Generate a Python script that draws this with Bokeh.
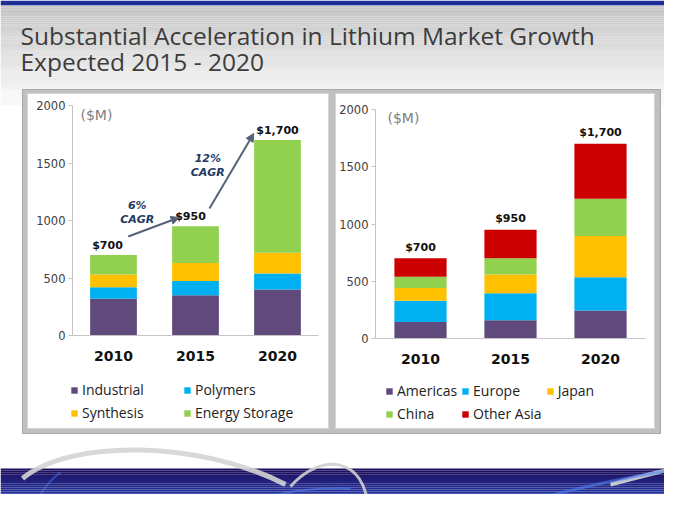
import numpy as np
from bokeh.plotting import figure
from bokeh.models import (Range1d, LinearAxis, FixedTicker, Legend, LegendItem,
                          Arrow, NormalHead, ColumnDataSource)
from bokeh.core.properties import value
from bokeh.embed import file_html
from bokeh.resources import INLINE

# ---------------- data ----------------
years = ["2010", "2015", "2020"]

app_names = ["Industrial", "Polymers", "Synthesis", "Energy Storage"]
industrial = [320, 350, 400]
polymers = [100, 125, 140]
synthesis = [110, 155, 180]
energy_storage = [170, 320, 980]

region_names = ["Americas", "Europe", "Japan", "China", "Other Asia"]
americas = [145, 160, 245]
europe = [185, 235, 290]
japan = [110, 165, 360]
china = [100, 140, 325]
other_asia = [160, 250, 480]

cagr_labels = ["6%\nCAGR", "12%\nCAGR"]
y_ticks = [0, 500, 1000, 1500, 2000]
unit_label = "($M)"
title_lines = ["Substantial Acceleration in Lithium Market Growth",
               "Expected 2015 - 2020"]

# ---------------- styles ----------------
app_colors = ["#604a7b", "#00b0f0", "#ffc000", "#92d050"]
region_colors = ["#604a7b", "#00b0f0", "#ffc000", "#92d050", "#cc0000"]

W, H = 664, 494
OX, OY = 0, 0

p = figure(width=W, height=H, x_range=Range1d(OX, OX + W), y_range=Range1d(OY + H, OY),
           output_backend="svg", toolbar_location=None,
           x_axis_type=None, y_axis_type=None, min_border=0,
           outline_line_color=None, background_fill_color="white",
           border_fill_color="white")


def mix(c1, c2, t):
    return "#%02x%02x%02x" % tuple(int(round(a + (b - a) * t)) for a, b in zip(c1, c2))


# top band + header gradient
p.quad(left=0, right=680, top=0, bottom=5, fill_color="#1f2d96", line_color=None)
n = 40
edges = np.linspace(5, 90, n + 1)
p.quad(left=0, right=680, top=edges[:-1], bottom=edges[1:],
       fill_color=[mix((198, 198, 198), (242, 242, 242), i / (n - 1)) for i in range(n)],
       line_color=None)
p.quad(left=0, right=680, top=90, bottom=105,
       fill_color=[mix((242, 242, 242), (255, 255, 255), 0.5)], line_color=None)

# bottom band
nb = 20
bedges = np.linspace(468, 510, nb + 1)
p.quad(left=0, right=680, top=bedges[:-1], bottom=bedges[1:],
       fill_color=[mix((30, 14, 92), (40, 76, 200), i / (nb - 1)) for i in range(nb)],
       line_color=None)
# swooshes
p.bezier(x0=[22], y0=[478], x1=[285], y1=[484], cx0=[70], cy0=[438], cx1=[200], cy1=[440],
         line_color="#d4d4d4", line_width=5, line_alpha=0.9)
p.bezier(x0=[290], y0=[486], x1=[368], y1=[510], cx0=[320], cy0=[452], cx1=[365], cy1=[455],
         line_color="#cfcfcf", line_width=3, line_alpha=0.9)
p.bezier(x0=[610], y0=[484], x1=[680], y1=[466], cx0=[640], cy0=[476], cx1=[665], cy1=[470],
         line_color="#d8d8d8", line_width=4, line_alpha=0.9)
p.bezier(x0=[230], y0=[512], x1=[350], y1=[488], cx0=[260], cy0=[495], cx1=[300], cy1=[486],
         line_color="#4f7ef0", line_width=2, line_alpha=0.6)
p.bezier(x0=[490], y0=[512], x1=[680], y1=[468], cx0=[560], cy0=[490], cx1=[630], cy1=[476],
         line_color="#4f7ef0", line_width=3, line_alpha=0.6)
p.bezier(x0=[30], y0=[512], x1=[60], y1=[472], cx0=[38], cy0=[495], cx1=[48], cy1=[480],
         line_color="#4f7ef0", line_width=2, line_alpha=0.5)

# frame and panels
p.quad(left=22, right=660, top=89, bottom=433, fill_color="#c0c0c0", line_color="#a8a8a8")
p.quad(left=[27, 335], right=[328, 654], top=[93, 93], bottom=[428, 428],
       fill_color="white", line_color="#d6d6d6")

# title
p.text(x=[20, 20], y=[35, 61], text=title_lines, text_font=value("Open Sans"),
       text_font_size="24.5px", text_color="#3c3c3c", text_baseline="alphabetic")


# ---------------- chart mapping ----------------
def sub_ranges(px_left, px_right, n_cat, px_zero, px_top, vmax):
    kx = (px_right - px_left) / n_cat
    xs = (OX - px_left) / kx
    ky = (px_zero - px_top) / vmax
    ys = -(OY + H - px_zero) / ky
    return Range1d(xs, xs + W / kx), Range1d(ys, ys + H / ky)


vmax = y_ticks[-1]
L = dict(left=72, right=318, zero=335, top=105)
R = dict(left=375, right=645, zero=338, top=109)
lx, ly = sub_ranges(L["left"], L["right"], len(years), L["zero"], L["top"], vmax)
rx, ry = sub_ranges(R["left"], R["right"], len(years), R["zero"], R["top"], vmax)
p.extra_x_ranges = {"lx": lx, "rx": rx}
p.extra_y_ranges = {"ly": ly, "ry": ry}

xc = [i + 0.5 for i in range(len(years))]

src_l = ColumnDataSource(dict(x=xc, **dict(zip(app_names,
                          [industrial, polymers, synthesis, energy_storage]))))
src_r = ColumnDataSource(dict(x=xc, **dict(zip(region_names,
                          [americas, europe, japan, china, other_asia]))))

rl = p.vbar_stack(app_names, x="x", width=0.57, color=app_colors, source=src_l,
                  x_range_name="lx", y_range_name="ly", line_color=None)
rr = p.vbar_stack(region_names, x="x", width=0.58, color=region_colors, source=src_r,
                  x_range_name="rx", y_range_name="ry", line_color=None)


def add_axes(xname, yname, frame):
    ya = LinearAxis(y_range_name=yname, fixed_location=frame["left"], bounds=(0, vmax),
                    ticker=FixedTicker(ticks=y_ticks), axis_line_color="#c4c4c4",
                    major_tick_line_color="#c4c4c4", major_tick_out=4, major_tick_in=0,
                    minor_tick_out=0, minor_tick_in=0, major_label_standoff=3,
                    major_label_text_font="DejaVu Sans", major_label_text_font_size="11.5px",
                    major_label_text_color="#404040")
    p.add_layout(ya, "left")
    xa = LinearAxis(x_range_name=xname, fixed_location=frame["zero"], bounds=(0, len(years)),
                    ticker=FixedTicker(ticks=xc),
                    major_label_overrides={t: y for t, y in zip(xc, years)},
                    axis_line_color="#c4c4c4", major_tick_out=0, major_tick_in=0,
                    minor_tick_out=0, minor_tick_in=0, major_label_standoff=15,
                    major_label_text_font="DejaVu Sans", major_label_text_font_style="bold",
                    major_label_text_font_size="14px", major_label_text_color="#111111")
    p.add_layout(xa, "below")


add_axes("lx", "ly", L)
add_axes("rx", "ry", R)

# unit labels
p.text(x=[L["left"] + 8, R["left"] + 12], y=[114, 117], text=[unit_label, unit_label],
       text_font=value("DejaVu Sans"), text_font_size="14px", text_color="#808080",
       text_baseline="middle")

# totals
tot_l = np.sum([industrial, polymers, synthesis, energy_storage], axis=0)
tot_r = np.sum([americas, europe, japan, china, other_asia], axis=0)
fmt = lambda v: "${:,}".format(int(v))
p.text(x=xc, y=list(tot_l), text=[fmt(v) for v in tot_l], x_offset=[-6, -5, 0],
       y_offset=-10, x_range_name="lx", y_range_name="ly", text_align="center",
       text_baseline="middle", text_font=value("DejaVu Sans"), text_font_style="bold",
       text_font_size="11px", text_color="#111111")
p.text(x=xc, y=list(tot_r), text=[fmt(v) for v in tot_r], y_offset=-11,
       x_range_name="rx", y_range_name="ry", text_align="center",
       text_baseline="middle", text_font=value("DejaVu Sans"), text_font_style="bold",
       text_font_size="11px", text_color="#111111")

# CAGR annotations
p.text(x=[0.79, 1.65], y=[1070, 1478], text=cagr_labels, x_range_name="lx", y_range_name="ly",
       text_align="center", text_baseline="middle", text_font=value("DejaVu Sans"),
       text_font_style="bold italic", text_font_size="11px", text_color="#1f3864",
       text_line_height=1.05)
acol = "#56627a"
for xs_, ys_, xe_, ye_ in [(0.68, 861, 1.30, 1026), (1.67, 1104, 2.21, 1757)]:
    p.add_layout(Arrow(x_start=xs_, y_start=ys_, x_end=xe_, y_end=ye_,
                       x_range_name="lx", y_range_name="ly", line_color=acol, line_width=2,
                       end=NormalHead(size=8, fill_color=acol, line_color=acol)))


# legends
def make_legend(names, rends, loc, ncols, label_width):
    return Legend(items=[LegendItem(label=nm, renderers=[r]) for nm, r in zip(names, rends)],
                  location=loc, orientation="horizontal", ncols=ncols,
                  background_fill_alpha=0, border_line_alpha=0, padding=0, margin=0,
                  spacing=4, glyph_width=8, glyph_height=8, label_standoff=4,
                  label_width=label_width, label_height=16,
                  label_text_font="Open Sans", label_text_font_size="14px",
                  label_text_color="#222222")


p.add_layout(make_legend(app_names, rl, (70, 72), 2, 97))
p.add_layout(make_legend(region_names, rr, (385, 71), 3, 57))

open("out.html", "w").write(file_html(p, INLINE))
